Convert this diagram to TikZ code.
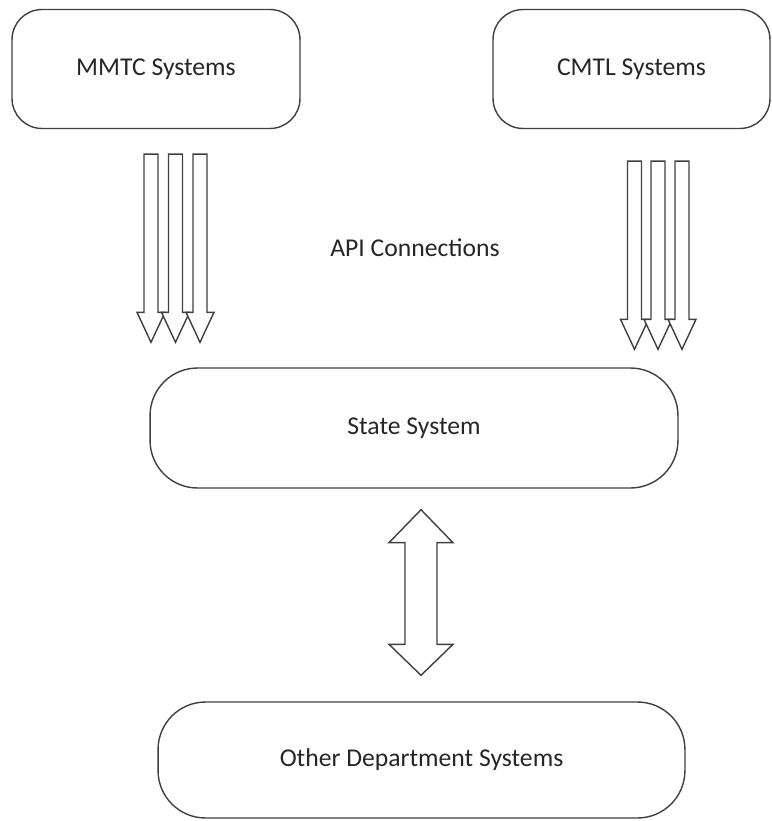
\documentclass[tikz,border=0pt]{standalone}
\usepackage{fontspec}
\setmainfont{Carlito}
\usetikzlibrary{calc}

% block arrow pointing down: top point, tip point
\newcommand{\downblock}[2]{%
  \draw[blockarrow] ($#1+(-7,0)$) -- ($#1+(7,0)$) -- ($#2+(7,-30)$) -- ($#2+(14,-30)$) --
                    #2 -- ($#2+(-14,-30)$) -- ($#2+(-7,-30)$) -- cycle;}

\begin{document}
\begin{tikzpicture}[x=0.02cm,y=-0.02cm,
    box/.style={draw=black!75, line width=0.8pt, rounded corners=0.6cm, text=black!85,
                font=\fontsize{14.6}{17}\selectfont},
    blockarrow/.style={draw=black!75, line width=0.8pt, fill=white}]
  \useasboundingbox (0,0) rectangle (771,821);

  \node[box, minimum width=5.76cm, minimum height=2.38cm] (mmtc) at (156,69) {MMTC Systems};
  \node[box, minimum width=5.54cm, minimum height=2.38cm] (cmtl) at (631.5,69) {CMTL Systems};
  \node[box, rounded corners=0.95cm, minimum width=10.56cm, minimum height=2.4cm] (state) at (414,428) {State System};
  \node[box, rounded corners=0.95cm, minimum width=10.54cm, minimum height=2.32cm] (other) at (421.5,760) {Other Department Systems};

  \node[text=black!85, font=\fontsize{14.6}{17}\selectfont] (api) at (415,248) {API Connections};

  \foreach \dx in {-5,19.5,44}
    \downblock{($(mmtc.south)+(\dx,25)$)}{($(mmtc.south |- state.north)+(\dx,-25)$)};
  \foreach \dx in {3,26.5,50.5}
    \downblock{($(cmtl.south)+(\dx,32)$)}{($(cmtl.south |- state.north)+(\dx,-18)$)};

  % two-way arrow between state and other systems
  \coordinate (up) at ($(state.south)+(7,21)$);
  \coordinate (dn) at ($(state.south |- other.north)+(7,-26)$);
  \draw[blockarrow] (up) -- ($(up)+(32,33)$) -- ($(up)+(16,33)$) -- ($(dn)+(16,-31)$) -- ($(dn)+(32,-31)$) --
                    (dn) -- ($(dn)+(-32,-31)$) -- ($(dn)+(-16,-31)$) -- ($(up)+(-16,33)$) -- ($(up)+(-32,33)$) -- cycle;
\end{tikzpicture}
\end{document}
